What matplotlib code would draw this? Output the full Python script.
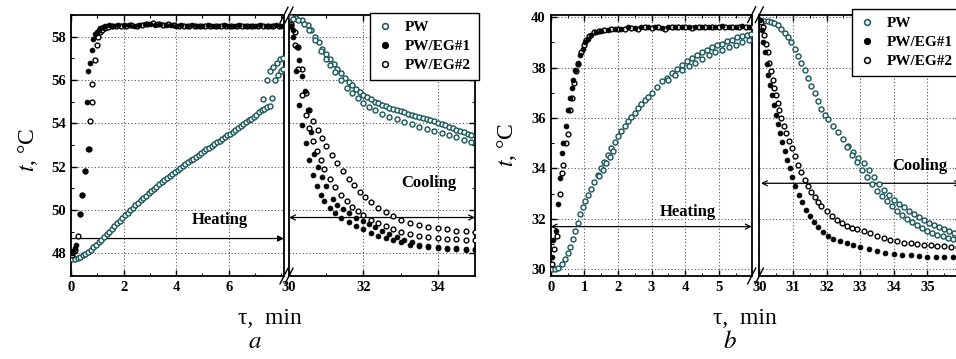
import matplotlib.pyplot as plt
from matplotlib.ticker import MultipleLocator
from matplotlib.lines import Line2D

plt.rcParams['font.family'] = ['Liberation Serif', 'DejaVu Serif']
plt.rcParams['mathtext.fontset'] = 'stix'

# ---------------- panel a : heating ----------------
a_heat_pw_t = [0.05, 0.15, 0.25, 0.35, 0.45, 0.55, 0.65, 0.75, 0.85, 0.95, 1.05, 1.15, 1.25, 1.35, 1.45,
               1.55, 1.65, 1.75, 1.85, 1.95, 2.05, 2.15, 2.25, 2.35, 2.45, 2.55, 2.65, 2.75, 2.85, 2.95,
               3.05, 3.15, 3.25, 3.35, 3.45, 3.55, 3.65, 3.75, 3.85, 3.95, 4.05, 4.15, 4.25, 4.35, 4.45,
               4.55, 4.65, 4.75, 4.85, 4.95, 5.05, 5.15, 5.25, 5.35, 5.45, 5.55, 5.65, 5.75, 5.85, 5.95,
               6.05, 6.15, 6.25, 6.35, 6.45, 6.55, 6.65, 6.75, 6.85, 6.95, 7.05, 7.15, 7.25, 7.35, 7.45,
               7.55, 7.31, 7.63, 7.44, 7.57, 7.7, 7.82, 7.95, 8.07, 7.76, 7.88, 7.98, 8.07]
a_heat_pw = [47.75, 47.75, 47.8, 47.85, 47.9, 47.98, 48.07, 48.17, 48.28, 48.4, 48.5, 48.62, 48.75, 48.88, 49.0,
             49.12, 49.25, 49.38, 49.5, 49.63, 49.75, 49.87, 50.0, 50.1, 50.22, 50.33, 50.45, 50.55, 50.66, 50.77,
             50.88, 50.98, 51.08, 51.18, 51.28, 51.38, 51.47, 51.57, 51.66, 51.75, 51.84, 51.93, 52.02, 52.11, 52.2,
             52.29, 52.37, 52.46, 52.55, 52.63, 52.72, 52.8, 52.88, 52.96, 53.04, 53.12, 53.2, 53.28, 53.36, 53.44,
             53.52, 53.6, 53.69, 53.77, 53.86, 53.95, 54.04, 54.13, 54.22, 54.31, 54.4, 54.5, 54.6, 54.68, 54.74,
             54.78, 55.1, 55.16, 56.0, 56.4, 56.6, 56.78, 56.95, 57.0, 56.0, 56.24, 56.4, 56.5]
a_heat_eg1_t = [0.02, 0.08, 0.14, 0.2, 0.34, 0.4, 0.52, 0.64, 0.6, 0.66, 0.72, 0.78, 0.85, 0.92, 0.98, 1.05,
                1.12, 1.2, 1.3, 1.45, 1.6, 1.8, 2.0, 2.2, 2.4, 2.6, 2.8, 3.0, 3.2, 3.4, 3.6, 3.8, 4.0, 4.2,
                4.4, 4.6, 4.8, 5.0, 5.2, 5.4, 5.6, 5.8, 6.0, 6.2, 6.4, 6.6, 6.8, 7.0, 7.2, 7.4, 7.6, 7.8, 8.0]
a_heat_eg1 = [48.0, 48.1, 48.25, 48.4, 49.8, 50.7, 51.8, 52.8, 55.0, 56.4, 56.8, 57.4, 57.9, 58.1, 58.2, 58.3,
              58.4, 58.45, 58.5, 58.52, 58.5, 58.55, 58.52, 58.55, 58.5, 58.55, 58.58, 58.6, 58.55, 58.58, 58.55,
              58.52, 58.5, 58.52, 58.5, 58.52, 58.5, 58.5, 58.52, 58.5, 58.5, 58.52, 58.5, 58.5, 58.52, 58.5,
              58.5, 58.5, 58.52, 58.5, 58.5, 58.52, 58.5]
a_heat_eg2_t = [0.05, 0.15, 0.28, 0.36, 0.42, 0.54, 0.67, 0.72, 0.8, 0.78, 0.92, 0.98, 1.04, 1.1, 1.18, 1.28,
                1.4, 1.55, 1.7, 1.9, 2.1, 2.3, 2.5, 2.7, 2.9, 3.1, 3.3, 3.5, 3.7, 3.9, 4.1, 4.3, 4.5, 4.7,
                4.9, 5.1, 5.3, 5.5, 5.7, 5.9, 6.1, 6.3, 6.5, 6.7, 6.9, 7.1, 7.3, 7.5, 7.7, 7.9]
a_heat_eg2 = [47.9, 48.15, 48.8, 49.8, 50.7, 51.8, 52.8, 54.1, 55.0, 55.8, 56.9, 57.6, 58.0, 58.2, 58.3, 58.4,
              58.45, 58.48, 58.5, 58.5, 58.48, 58.52, 58.5, 58.55, 58.6, 58.62, 58.58, 58.55, 58.6, 58.55, 58.5,
              58.48, 58.5, 58.5, 58.48, 58.5, 58.5, 58.48, 58.5, 58.5, 58.5, 58.48, 58.5, 58.5, 58.5, 58.48,
              58.5, 58.5, 58.5, 58.5]

# ---------------- panel a : cooling ----------------
a_cool_pw_t = [30.05, 30.2, 30.35, 30.5, 30.6, 30.7, 30.8, 30.9, 31.0, 31.1, 31.2, 31.3, 31.4, 31.5, 31.6, 31.7,
               31.8, 31.9, 32.0, 32.1, 32.2, 32.3, 32.4, 32.5, 32.6, 32.7, 32.8, 32.9, 33.0, 33.1, 33.2, 33.3,
               33.4, 33.5, 33.6, 33.7, 33.8, 33.9, 34.0, 34.1, 34.2, 34.3, 34.4, 34.5, 34.6, 34.7, 34.8, 34.9,
               30.1, 30.25, 30.4, 30.55, 30.7, 30.85, 31.0, 31.1, 31.25, 31.4, 31.55, 31.7, 31.85, 32.0, 32.15,
               32.3, 32.5, 32.7, 32.9, 33.1, 33.3, 33.5, 33.7, 33.9, 34.1, 34.3, 34.5, 34.7, 34.9]
a_cool_pw = [58.9, 58.85, 58.75, 58.55, 58.3, 58.0, 57.75, 57.45, 57.2, 56.95, 56.72, 56.5, 56.3, 56.1, 55.92, 55.75,
             55.6, 55.45, 55.32, 55.2, 55.1, 55.0, 54.92, 54.85, 54.78, 54.7, 54.65, 54.6, 54.55, 54.5, 54.45, 54.4,
             54.35, 54.3, 54.25, 54.2, 54.15, 54.1, 54.02, 53.95, 53.9, 53.85, 53.78, 53.7, 53.65, 53.6, 53.52, 53.45,
             58.8, 58.75, 58.6, 58.3, 57.85, 57.35, 56.95, 56.7, 56.35, 56.0, 55.65, 55.4, 55.15, 54.95, 54.75,
             54.6, 54.45, 54.3, 54.2, 54.05, 53.95, 53.85, 53.75, 53.65, 53.55, 53.45, 53.35, 53.25, 53.15]
a_cool_eg1_t = [30.03, 30.1, 30.2, 30.28, 30.35, 30.45, 30.55, 30.65, 30.75, 30.85, 30.95, 31.1, 31.25, 31.4,
                31.6, 31.8, 32.0, 32.2, 32.4, 32.6, 32.8, 33.0, 33.25, 33.5, 33.75, 34.0, 34.25, 34.5, 34.75, 35.0,
                30.1, 30.22, 30.28, 30.35, 30.42, 30.5, 30.58, 30.68, 30.78, 30.9, 31.0, 31.17, 31.3, 31.45, 31.6,
                31.8, 32.0, 32.15, 32.3, 32.5, 32.7, 32.9, 33.1, 33.3, 33.5, 33.75, 34.0, 34.25, 34.5, 34.75, 35.0]
a_cool_eg1 = [58.5, 58.0, 56.4, 54.85, 53.9, 53.1, 52.3, 51.6, 51.1, 50.7, 50.4, 50.1, 49.85, 49.65,
              49.45, 49.25, 49.1, 48.95, 48.8, 48.7, 48.6, 48.5, 48.4, 48.35, 48.3, 48.25, 48.2, 48.2, 48.15, 48.15,
              58.3, 57.5, 56.9, 56.2, 55.5, 54.6, 53.6, 52.6, 52.0, 51.5, 51.1, 50.5, 50.25, 50.05, 49.85,
              49.65, 49.5, 49.37, 49.2, 49.05, 48.9, 48.75, 48.6, 48.5, 48.4, 48.35, 48.3, 48.25, 48.25, 48.2, 48.2]
a_cool_eg2_t = [30.05, 30.15, 30.25, 30.35, 30.45, 30.55, 30.65, 30.78, 30.9, 31.0, 31.15, 31.3, 31.45, 31.6,
                31.75, 31.9, 32.05, 32.2, 32.4, 32.6, 32.8, 33.0, 33.25, 33.5, 33.75, 34.0, 34.25, 34.5, 34.75, 35.0,
                30.05, 30.15, 30.25, 30.35, 30.45, 30.55, 30.65, 30.75, 30.85, 30.95, 31.1, 31.25, 31.4, 31.55,
                31.7, 31.85, 32.0, 32.2, 32.4, 32.6, 32.8, 33.0, 33.25, 33.5, 33.75, 34.0, 34.25, 34.5, 34.75, 35.0]
a_cool_eg2 = [58.6, 58.2, 57.5, 56.5, 55.4, 54.6, 54.1, 53.7, 53.3, 52.95, 52.55, 52.15, 51.8, 51.45,
              51.15, 50.85, 50.6, 50.35, 50.1, 49.9, 49.7, 49.55, 49.4, 49.3, 49.2, 49.15, 49.1, 49.05, 49.05, 49.0,
              58.5, 57.6, 56.5, 55.3, 54.4, 53.8, 53.2, 52.7, 52.3, 51.9, 51.45, 51.05, 50.7, 50.4,
              50.15, 49.95, 49.75, 49.55, 49.4, 49.25, 49.1, 49.0, 48.9, 48.8, 48.75, 48.7, 48.65, 48.65, 48.6, 48.6]

# ---------------- panel b : heating ----------------
b_heat_pw_t = [0.03, 0.13, 0.23, 0.33, 0.42, 0.5, 0.57, 0.65, 0.72, 0.8, 0.88, 0.95, 1.02, 1.1, 1.2, 1.3, 1.4,
               1.5, 1.6, 1.7, 1.8, 1.9, 2.0, 2.1, 2.2, 2.3, 2.4, 2.5, 2.6, 2.7, 2.8, 2.9, 3.0, 3.15, 3.3, 3.45,
               3.6, 3.75, 3.9, 4.05, 4.2, 4.35, 4.5, 4.65, 4.8, 4.95, 5.1, 5.25, 5.4, 5.55, 5.7, 5.85, 5.95,
               1.45, 1.55, 1.65, 1.75, 1.85, 3.5, 3.7, 3.9, 4.1, 4.3, 4.5, 4.7, 4.9, 5.1, 5.3, 5.5, 5.7, 5.9]
b_heat_pw = [30.0, 30.0, 30.05, 30.2, 30.4, 30.65, 30.9, 31.2, 31.5, 31.85, 32.2, 32.45, 32.7, 32.95, 33.2, 33.45,
             33.75, 34.0, 34.25, 34.55, 34.8, 35.05, 35.3, 35.5, 35.7, 35.9, 36.05, 36.2, 36.4, 36.55, 36.7, 36.85,
             37.0, 37.25, 37.45, 37.6, 37.8, 37.95, 38.1, 38.25, 38.4, 38.5, 38.6, 38.7, 38.8, 38.9, 38.95, 39.05,
             39.1, 39.2, 39.25, 39.3, 39.35,
             33.7, 33.95, 34.2, 34.45, 34.7, 37.5, 37.7, 37.9, 38.05, 38.2, 38.35, 38.5, 38.6, 38.7, 38.8, 38.9,
             39.0, 39.1]
b_heat_eg1_t = [0.03, 0.08, 0.15, 0.23, 0.28, 0.33, 0.38, 0.45, 0.52, 0.57, 0.62, 0.67, 0.72, 0.8, 0.88, 0.95,
                1.02, 1.1, 1.2, 1.35, 1.5, 1.7, 1.9, 2.1, 2.3, 2.5, 2.7, 2.9, 3.1, 3.3, 3.5, 3.7, 3.9, 4.1, 4.3,
                4.5, 4.7, 4.9, 5.1, 5.3, 5.5, 5.7, 5.9]
b_heat_eg1 = [30.5, 31.15, 31.5, 32.6, 33.6, 34.6, 35.0, 35.7, 36.3, 36.8, 37.2, 37.5, 37.9, 38.2, 38.5, 38.75,
              39.0, 39.15, 39.3, 39.4, 39.45, 39.5, 39.55, 39.55, 39.6, 39.58, 39.6, 39.62, 39.6, 39.58, 39.6,
              39.62, 39.6, 39.6, 39.62, 39.6, 39.62, 39.6, 39.65, 39.62, 39.6, 39.65, 39.62]
b_heat_eg2_t = [0.05, 0.1, 0.18, 0.27, 0.33, 0.37, 0.45, 0.5, 0.57, 0.62, 0.68, 0.75, 0.82, 0.9, 0.98, 1.05,
                1.15, 1.3, 1.45, 1.6, 1.8, 2.0, 2.2, 2.4, 2.6, 2.8, 3.0, 3.2, 3.4, 3.6, 3.8, 4.0, 4.2, 4.4, 4.6,
                4.8, 5.0, 5.2, 5.4, 5.6, 5.8, 6.0]
b_heat_eg2 = [30.2, 30.8, 31.3, 33.0, 33.8, 34.15, 35.0, 35.35, 36.3, 36.8, 37.4, 37.85, 38.15, 38.6, 38.9, 39.1,
              39.25, 39.4, 39.45, 39.5, 39.52, 39.55, 39.55, 39.58, 39.55, 39.6, 39.58, 39.6, 39.55, 39.6, 39.62,
              39.6, 39.58, 39.6, 39.62, 39.6, 39.6, 39.62, 39.6, 39.62, 39.6, 39.6]

# ---------------- panel b : cooling ----------------
b_cool_pw_t = [30.05, 30.15, 30.25, 30.35, 30.45, 30.55, 30.65, 30.75, 30.85, 30.95, 31.05, 31.15, 31.25, 31.35,
               31.45, 31.55, 31.65, 31.75, 31.85, 31.95, 32.05, 32.2, 32.35, 32.5, 32.65, 32.8, 32.95, 33.1, 33.25,
               33.4, 33.55, 33.7, 33.85, 34.0, 34.15, 34.3, 34.45, 34.6, 34.75, 34.9, 35.05, 35.2, 35.35, 35.5,
               35.65, 35.8, 35.95,
               32.6, 32.75, 32.9, 33.05, 33.2, 33.35, 33.5, 33.65, 33.8, 33.95, 34.1, 34.25, 34.4, 34.55, 34.7,
               34.85, 35.0, 35.15, 35.3, 35.45, 35.6, 35.75, 35.9]
b_cool_pw = [39.85, 39.85, 39.85, 39.83, 39.78, 39.7, 39.55, 39.38, 39.2, 39.0, 38.75, 38.48, 38.2, 37.9,
             37.6, 37.28, 36.98, 36.68, 36.35, 36.1, 35.95, 35.7, 35.43, 35.17, 34.9, 34.65, 34.42, 34.2, 33.93,
             33.65, 33.38, 33.15, 32.95, 32.75, 32.58, 32.45, 32.32, 32.2, 32.08, 31.96, 31.85, 31.76, 31.67, 31.6,
             31.53, 31.45, 31.38,
             34.85, 34.55, 34.25, 33.95, 33.65, 33.38, 33.12, 32.9, 32.7, 32.5, 32.32, 32.15, 32.0, 31.86, 31.74,
             31.62, 31.52, 31.43, 31.36, 31.3, 31.24, 31.19, 31.15]
b_cool_eg1_t = [30.03, 30.08, 30.12, 30.17, 30.22, 30.27, 30.32, 30.38, 30.44, 30.5, 30.56, 30.62, 30.68, 30.75,
                30.82, 30.9, 30.98, 31.07, 31.17, 31.27, 31.38, 31.5, 31.62, 31.75, 31.9, 32.05, 32.2, 32.4, 32.6,
                32.8, 33.0, 33.25, 33.5, 33.75, 34.0, 34.25, 34.5, 34.75, 35.0, 35.25, 35.5, 35.75, 36.0]
b_cool_eg1 = [39.9, 39.5, 39.0, 38.6, 38.15, 37.7, 37.3, 36.9, 36.5, 36.1, 35.75, 35.4, 35.05, 34.7,
              34.35, 34.0, 33.65, 33.3, 32.95, 32.65, 32.35, 32.1, 31.88, 31.68, 31.48, 31.3, 31.2, 31.1, 31.02,
              30.95, 30.88, 30.8, 30.72, 30.66, 30.62, 30.58, 30.55, 30.52, 30.5, 30.49, 30.48, 30.47, 30.46]
b_cool_eg2_t = [30.05, 30.1, 30.15, 30.2, 30.25, 30.3, 30.35, 30.4, 30.45, 30.5, 30.55, 30.6, 30.65, 30.72, 30.8,
                30.88, 30.96, 31.05, 31.15, 31.25, 31.35, 31.45, 31.55, 31.65, 31.75, 31.85, 32.0, 32.15, 32.3,
                32.45, 32.6, 32.75, 32.9, 33.1, 33.3, 33.5, 33.7, 33.9, 34.1, 34.3, 34.5, 34.7, 34.9, 35.1, 35.3,
                35.5, 35.7, 35.9]
b_cool_eg2 = [39.8, 39.6, 39.3, 38.95, 38.6, 38.2, 37.85, 37.5, 37.2, 36.9, 36.6, 36.3, 36.0, 35.7, 35.4,
              35.1, 34.8, 34.5, 34.15, 33.85, 33.55, 33.3, 33.05, 32.85, 32.67, 32.5, 32.3, 32.12, 31.97,
              31.83, 31.72, 31.65, 31.58, 31.5, 31.42, 31.33, 31.25, 31.17, 31.1, 31.05, 31.02, 31.0, 30.97, 30.95,
              30.93, 30.91, 30.9, 30.88]

labels = ['PW', 'PW/EG#1', 'PW/EG#2']
PW_EDGE = '#1f5557'

W, H = 956, 359


def rect(x0, x1, y0, y1):
    # pixel box -> figure fraction
    return [x0 / W, 1 - y1 / H, (x1 - x0) / W, (y1 - y0) / H]


def style(ax, ylim, xlim):
    ax.set_xlim(*xlim)
    ax.set_ylim(*ylim)
    ax.grid(True, which='major', linestyle=(0, (1, 2)), color='#555555', linewidth=0.8)
    ax.tick_params(which='both', direction='in', top=True, labelsize=10.5)
    ax.tick_params(which='major', length=4, width=1)
    ax.tick_params(which='minor', length=2.5, width=0.8)
    for s in ax.spines.values():
        s.set_linewidth(1.3)
    for lab in ax.get_xticklabels() + ax.get_yticklabels():
        lab.set_fontweight('bold')


def dots(ax, pw, eg1, eg2):
    ax.scatter(*pw, s=13, facecolors='#e8f7f7', edgecolors=PW_EDGE, linewidths=1.0, zorder=3)
    ax.scatter(*eg2, s=12, facecolors='white', edgecolors='black', linewidths=1.0, zorder=3)
    ax.scatter(*eg1, s=12, facecolors='black', edgecolors='black', linewidths=0.6, zorder=3)


def breaks(ax_l, ax_r):
    kw = dict(color='black', linewidth=1.0, clip_on=False)
    dl, dy = 4.0 / (ax_l.bbox.width), 0.03
    dr = 4.0 / (ax_r.bbox.width)
    for y in (0, 1):
        ax_l.plot([1 - dl, 1 + dl], [y - dy, y + dy], transform=ax_l.transAxes, **kw)
        ax_r.plot([-dr, dr], [y - dy, y + dy], transform=ax_r.transAxes, **kw)


def arrow(ax, x0, x1, y, style='<->'):
    ax.annotate('', xy=(x1, y), xytext=(x0, y),
                arrowprops=dict(arrowstyle=style, lw=0.9, color='black',
                                mutation_scale=9, shrinkA=0, shrinkB=0), zorder=2)


fig = plt.figure(figsize=(W / 100, H / 100), dpi=100)

# ----- panel a -----
ah = fig.add_axes(rect(71, 284, 15, 276))
ac = fig.add_axes(rect(289, 475, 15, 276))
dots(ah, (a_heat_pw_t, a_heat_pw), (a_heat_eg1_t, a_heat_eg1), (a_heat_eg2_t, a_heat_eg2))
dots(ac, (a_cool_pw_t, a_cool_pw), (a_cool_eg1_t, a_cool_eg1), (a_cool_eg2_t, a_cool_eg2))
ah.set_xticks([0, 2, 4, 6])
ah.xaxis.set_minor_locator(MultipleLocator(1))
ah.set_yticks([48, 50, 52, 54, 56, 58])
ah.yaxis.set_minor_locator(MultipleLocator(1))
ac.set_xticks([30, 32, 34])
ac.xaxis.set_minor_locator(MultipleLocator(1))
ac.set_yticks([48, 50, 52, 54, 56, 58])
ac.yaxis.set_minor_locator(MultipleLocator(1))
ac.tick_params(which='both', left=False, right=True, labelleft=False)
style(ah, (46.95, 59.0), (0, 8.1))
style(ac, (46.95, 59.0), (30, 35))
arrow(ah, 0, 8.1, 48.68, '-|>')
arrow(ac, 30, 35, 49.65)
ah.text(5.67, 49.55, 'Heating', fontsize=12, fontweight='bold', ha='center', va='center')
ac.text(33.75, 51.25, 'Cooling', fontsize=12, fontweight='bold', ha='center', va='center')
breaks(ah, ac)

# ----- panel b -----
bh = fig.add_axes(rect(550.7, 751.7, 14.7, 276))
bc = fig.add_axes(rect(759.3, 961, 14.7, 276))
dots(bh, (b_heat_pw_t, b_heat_pw), (b_heat_eg1_t, b_heat_eg1), (b_heat_eg2_t, b_heat_eg2))
dots(bc, (b_cool_pw_t, b_cool_pw), (b_cool_eg1_t, b_cool_eg1), (b_cool_eg2_t, b_cool_eg2))
bh.set_xticks([0, 1, 2, 3, 4, 5])
bh.xaxis.set_minor_locator(MultipleLocator(0.5))
bh.set_yticks([30, 32, 34, 36, 38, 40])
bh.yaxis.set_minor_locator(MultipleLocator(1))
bc.set_xticks([30, 31, 32, 33, 34, 35])
bc.xaxis.set_minor_locator(MultipleLocator(0.5))
bc.set_yticks([30, 32, 34, 36, 38, 40])
bc.yaxis.set_minor_locator(MultipleLocator(1))
bc.tick_params(which='both', left=False, right=True, labelleft=False)
style(bh, (29.73, 40.1), (0, 5.98))
style(bc, (29.73, 40.1), (30, 36))
arrow(bh, 0, 5.98, 31.69)
arrow(bc, 30.05, 36, 33.41)
bh.text(4.09, 32.27, 'Heating', fontsize=12, fontweight='bold', ha='center', va='center')
bc.text(34.78, 34.1, 'Cooling', fontsize=12, fontweight='bold', ha='center', va='center')
breaks(bh, bc)

# ----- legends -----
handles = [
    Line2D([], [], linestyle='none', marker='o', markersize=4.2, markerfacecolor='#e8f7f7',
           markeredgecolor=PW_EDGE, markeredgewidth=1.1),
    Line2D([], [], linestyle='none', marker='o', markersize=4.2, markerfacecolor='black',
           markeredgecolor='black'),
    Line2D([], [], linestyle='none', marker='o', markersize=4.2, markerfacecolor='white',
           markeredgecolor='black', markeredgewidth=1.1),
]
for x0, y0 in ((370, 13), (852, 9)):
    leg = fig.legend(handles, labels, loc='upper left', bbox_to_anchor=(x0 / W, 1 - y0 / H),
                     frameon=True, fancybox=False, edgecolor='black', framealpha=1,
                     prop={'family': 'Liberation Serif', 'weight': 'bold', 'size': 11},
                     handlelength=1.0, handletextpad=0.8, labelspacing=0.35,
                     borderpad=0.5, borderaxespad=0, markerscale=1)
    leg.get_frame().set_linewidth(1.0)

# ----- axis labels -----
for xc, yc, xl, letter in ((28, 150, 270, 'a'), (507, 145, 745, 'b')):
    fig.text(xc / W, 1 - yc / H, r'$t$, °C', rotation=90, fontsize=17, ha='center', va='center')
    fig.text(xl / W, 1 - 318 / H, 'τ,  min', fontsize=17, ha='center', va='center')
    fig.text((xl - 15) / W, 1 - 342 / H, '$' + letter + '$', fontsize=18, ha='center', va='center')

fig.savefig('out.png', dpi=100)
